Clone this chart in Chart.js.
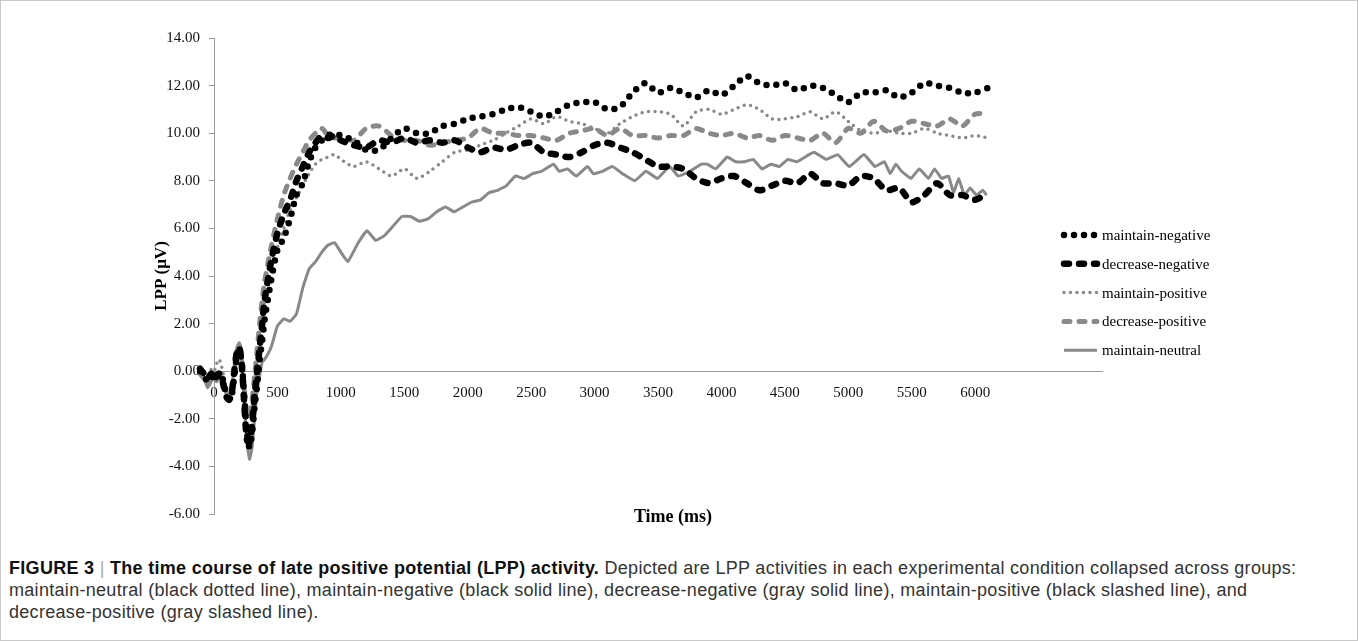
<!DOCTYPE html>
<html>
<head>
<meta charset="utf-8">
<title>LPP time course</title>
<script src="https://cdn.jsdelivr.net/npm/chart.js@4.4.1/dist/chart.umd.min.js"></script>
<style>
  html, body { margin: 0; padding: 0; background: #fff; }
  #frame { position: absolute; left: 0; top: 0; width: 1358px; height: 641px; box-sizing: border-box; border: 1px solid #c9c9c9; }
  #chart-wrap { position: absolute; left: 0; top: 0; width: 1358px; height: 540px; }
  #caption { position: absolute; left: 9px; top: 557px; font-family: "Liberation Sans", Arial, sans-serif; font-size: 18px; letter-spacing: 0.3px; line-height: 22px; color: #333; white-space: nowrap; }
  #caption b { color: #111; }
  #caption .bar { color: #aaa; font-weight: normal; }
</style>
</head>
<body>
<div id="frame"></div>
<div id="chart-wrap"><canvas id="lpp" width="1358" height="540"></canvas></div>
<div id="caption"><b>FIGURE 3 <span class="bar">|</span> The time course of late positive potential (LPP) activity.</b> Depicted are LPP activities in each experimental condition collapsed across groups:<br>maintain-neutral (black dotted line), maintain-negative (black solid line), decrease-negative (gray solid line), maintain-positive (black slashed line), and<br>decrease-positive (gray slashed line).</div>
<script>
// time points (ms), dense around the early components
var timeMs = [
  -110, -80, -50, -20, 0, 20, 40, 60, 80, 100, 120, 140, 160, 180, 200, 220, 240, 260, 280, 300, 320, 340, 360, 380, 400,
  450, 500, 550, 600, 650, 700, 750, 800, 850, 900, 950, 1000,
  1100, 1200, 1300, 1400, 1500, 1600, 1700, 1800, 1900, 2000,
  2100, 2200, 2300, 2400, 2500, 2600, 2700, 2800, 2900, 3000,
  3100, 3200, 3300, 3400, 3500, 3600, 3700, 3800, 3900, 4000,
  4100, 4200, 4300, 4400, 4500, 4600, 4700, 4800, 4900, 5000,
  5100, 5200, 5300, 5400, 5500, 5600, 5700, 5800, 5900, 6000,
  6100
];

// the solid gray line zigzags more, so it was read at its own turning points
var neutralTimeMs = [
  -110, -80, -50, -20, 0, 20, 40, 60, 80, 100, 120, 140, 160, 180, 200, 220, 240, 260, 280, 300, 320, 340, 360, 380, 400,
  450, 500, 550, 600, 650, 700, 750, 800, 850, 900, 950, 1000,
  1055, 1137, 1206, 1275, 1344, 1412, 1481, 1550, 1618, 1687, 1756, 1825, 1893, 1962,
  2031, 2100, 2168, 2237, 2306, 2375, 2444, 2512, 2580, 2677, 2720, 2787, 2855, 2945, 2990,
  3062, 3140, 3220, 3316, 3405, 3495, 3591, 3660, 3750, 3842, 3887, 3955,
  4045, 4113, 4182, 4250, 4320, 4390, 4457, 4525, 4595, 4690, 4732, 4825, 4917,
  5007, 5124, 5210, 5285, 5330, 5375, 5420, 5494, 5560, 5632, 5680, 5735, 5790, 5830, 5870, 5915, 5960,
  6010, 6060, 6090
];

var maintainNegative = [
  0.0, -0.2, -0.4, -0.2, -0.3, -0.1, -0.3, -0.2, -0.6, -1.0, -1.2, -1.0, -0.2, 0.6, 0.9, 0.3, -1.2, -2.6, -3.2, -2.6, -1.5, -0.6, 0.5, 1.3, 2.2,
  3.8, 5.1, 5.6, 6.4, 7.4, 7.9, 8.8, 9.4, 9.7, 9.9, 10.0, 9.9,
  9.7, 9.3, 9.3, 9.8, 10.2, 10.0, 10.0, 10.3, 10.4, 10.6,
  10.7, 10.8, 11.0, 11.1, 10.9, 10.7, 10.9, 11.2, 11.3, 11.3,
  11.0, 11.1, 11.7, 12.1, 11.7, 11.9, 11.7, 11.5, 11.8, 11.6,
  12.0, 12.4, 12.1, 12.0, 12.1, 11.8, 12.0, 11.9, 11.6, 11.3,
  11.7, 11.7, 11.8, 11.5, 11.7, 12.1, 12.0, 11.9, 11.7, 11.7,
  11.9
];

var decreaseNegative = [
  0.1, -0.1, -0.3, -0.1, -0.4, -0.2, -0.1, -0.3, -0.7, -1.1, -1.2, -0.9, 0.0, 0.8, 1.0, 0.2, -1.5, -2.9, -3.0, -2.2, -1.0, 0.0, 1.0, 2.0, 3.0,
  4.6, 5.8, 6.6, 7.2, 8.0, 8.6, 9.2, 9.6, 9.9, 9.8, 9.9, 9.7,
  9.5, 9.4, 9.7, 9.6, 9.8, 9.6, 9.7, 9.6, 9.7, 9.4,
  9.2, 9.4, 9.3, 9.5, 9.6, 9.2, 9.1, 9.0, 9.2, 9.5,
  9.6, 9.4, 9.2, 8.9, 8.6, 8.6, 8.5, 8.1, 7.9, 8.1,
  8.2, 7.9, 7.6, 7.8, 8.0, 7.9, 8.3, 7.9, 7.9, 7.8,
  8.2, 8.1, 7.6, 7.7, 7.1, 7.4, 7.9, 7.4, 7.4, 7.2,
  7.5
];

var maintainPositive = [
  0.2, 0.0, -0.2, 0.1, 0.0, 0.3, 0.5, 0.2, -0.3, -0.8, -1.0, -0.7, 0.2, 0.9, 1.0, 0.2, -1.2, -2.4, -2.8, -2.0, -0.8, 0.3, 1.3, 2.2, 3.0,
  4.4, 5.2, 6.0, 6.8, 7.3, 7.8, 8.3, 8.7, 8.9, 9.0, 9.1, 8.9,
  8.6, 8.8, 8.5, 8.2, 8.5, 8.1, 8.4, 8.8, 9.2, 9.3,
  9.5, 9.7, 10.0, 10.3, 10.6, 10.4, 10.7, 10.5, 10.4, 10.2,
  10.0, 10.4, 10.7, 10.9, 10.9, 10.8, 10.3, 10.9, 11.0, 10.8,
  11.0, 11.2, 11.0, 10.6, 10.6, 10.7, 10.9, 10.6, 10.9, 10.5,
  10.1, 10.0, 10.1, 10.0, 10.0, 10.2, 10.0, 9.9, 9.8, 9.9,
  9.8
];

var decreasePositive = [
  -0.1, -0.3, -0.6, -0.3, -0.2, -0.4, -0.1, -0.3, -0.5, -0.9, -1.1, -0.8, 0.1, 0.9, 1.1, 0.4, -0.8, -1.8, -1.9, -1.2, -0.2, 0.9, 2.0, 3.0, 3.8,
  5.2, 6.4, 7.4, 8.1, 8.7, 9.2, 9.7, 10.0, 10.2, 9.9, 9.8, 9.8,
  9.7, 10.2, 10.3, 9.9, 9.7, 9.7, 9.5, 9.6, 9.7, 9.8,
  10.2, 10.0, 10.0, 9.9, 9.9, 9.8, 9.7, 10.0, 10.1, 10.2,
  9.9, 10.2, 9.9, 9.9, 9.8, 9.9, 9.9, 10.2, 10.0, 9.9,
  10.0, 9.8, 9.9, 9.7, 9.9, 9.8, 9.7, 10.0, 9.6, 10.2,
  10.0, 10.5, 10.1, 10.2, 10.5, 10.4, 10.3, 10.6, 10.3, 10.8,
  10.8
];

var maintainNeutral = [
  0.0, -0.3, -0.7, -0.4, -0.2, -0.2, -0.1, -0.2, -0.5, -0.9, -1.0, -0.7, 0.2, 1.0, 1.2, 0.4, -1.4, -3.0, -3.7, -3.2, -2.0, -0.8, -0.2, 0.4, 0.5,
  1.0, 1.9, 2.2, 2.1, 2.4, 3.5, 4.3, 4.6, 5.0, 5.3, 5.4, 5.0,
  4.6, 5.4, 5.9, 5.5, 5.7, 6.1, 6.5, 6.5, 6.3, 6.4, 6.7, 6.9, 6.7, 6.9,
  7.1, 7.2, 7.5, 7.6, 7.8, 8.2, 8.1, 8.3, 8.4, 8.7, 8.4, 8.5, 8.2, 8.6, 8.3,
  8.4, 8.6, 8.3, 8.0, 8.4, 8.1, 8.6, 8.2, 8.4, 8.7, 8.7, 8.5,
  9.0, 8.8, 8.8, 8.9, 8.5, 8.7, 8.6, 8.9, 8.8, 9.1, 9.2, 8.9, 9.1,
  8.6, 9.1, 8.6, 8.8, 8.3, 8.7, 8.4, 8.1, 8.5, 8.1, 8.5, 8.1, 8.2, 7.5, 8.1, 7.4, 7.7,
  7.4, 7.6, 7.4
];

var seriesNames = ["maintain-negative", "decrease-negative", "maintain-positive", "decrease-positive", "maintain-neutral"];
var xTickValues = [0, 500, 1000, 1500, 2000, 2500, 3000, 3500, 4000, 4500, 5000, 5500, 6000];
var yTickValues = [-6, -4, -2, 0, 2, 4, 6, 8, 10, 12, 14];

var SERIF = "'Liberation Serif', 'Times New Roman', serif";
var AXIS_GRAY = "#9a9a9a";
var LINE_GRAY = "#898989";

function points(times, values) {
    return times.map(function (t, i) {
        return {x: t, y: values[i]};
    });
}

function series(name, times, values, style) {
    return Object.assign({
        label: name,
        data: points(times, values),
        pointRadius: 0,
        fill: false,
        tension: 0.25,
        clip: false
    }, style);
}

// legend and axis titles are drawn on the canvas, next to the plot
var lppDecor = {
    id: "lppDecor",
    afterDraw: function (chart) {
        var ctx = chart.ctx;
        var area = chart.chartArea;
        ctx.save();
        ctx.fillStyle = "#000";
        ctx.textBaseline = "middle";

        ctx.textAlign = "center";
        ctx.font = "bold 18px " + SERIF;
        ctx.fillText("Time (ms)", 673, 517);

        ctx.save();
        ctx.translate(162, (area.top + area.bottom) / 2);
        ctx.rotate(-Math.PI / 2);
        ctx.font = "bold 17px " + SERIF;
        ctx.fillText("LPP (\u03bcV)", 0, 0);
        ctx.restore();

        ctx.textAlign = "left";
        ctx.font = "15px " + SERIF;
        chart.data.datasets.forEach(function (ds, i) {
            var y = 235 + i * 28.8;
            ctx.save();
            ctx.strokeStyle = ds.borderColor;
            ctx.lineWidth = ds.borderWidth;
            ctx.lineCap = ds.borderCapStyle || "butt";
            ctx.setLineDash(ds.borderDash || []);
            ctx.beginPath();
            ctx.moveTo(1064, y);
            ctx.lineTo(1097, y);
            ctx.stroke();
            ctx.restore();
            ctx.fillText(ds.label, 1102, y + 1);
        });
        ctx.restore();
    }
};

new Chart(document.getElementById("lpp"), {
    type: "line",
    data: {
        datasets: [
            series(seriesNames[0], timeMs, maintainNegative, {borderColor: "#000", borderWidth: 6.5, borderDash: [0, 10], borderCapStyle: "round"}),
            series(seriesNames[1], timeMs, decreaseNegative, {borderColor: "#000", borderWidth: 6.5, borderDash: [5, 10], borderCapStyle: "round"}),
            series(seriesNames[2], timeMs, maintainPositive, {borderColor: LINE_GRAY, borderWidth: 3.5, borderDash: [0, 6.5], borderCapStyle: "round"}),
            series(seriesNames[3], timeMs, decreasePositive, {borderColor: LINE_GRAY, borderWidth: 5, borderDash: [6, 9], borderCapStyle: "round"}),
            series(seriesNames[4], neutralTimeMs, maintainNeutral, {borderColor: LINE_GRAY, borderWidth: 3, tension: 0.1})
        ]
    },
    options: {
        responsive: false,
        animation: false,
        events: [],
        layout: {padding: {left: 154, right: 256, top: 38, bottom: 26}},
        plugins: {
            legend: {display: false},
            tooltip: {enabled: false}
        },
        scales: {
            x: {
                type: "linear",
                position: {y: 0},
                afterDataLimits: function (scale) {
                    scale.min = 0;
                    scale.max = 6100;
                },
                afterBuildTicks: function (scale) {
                    scale.ticks = xTickValues.map(function (v) { return {value: v}; });
                },
                grid: {drawOnChartArea: false, drawTicks: false, color: AXIS_GRAY},
                border: {color: AXIS_GRAY, width: 1},
                ticks: {
                    padding: 13,
                    color: "#111",
                    font: {family: SERIF, size: 15},
                    maxRotation: 0,
                    autoSkip: false,
                    callback: function (v) { return String(v); }
                }
            },
            y: {
                position: "left",
                min: -6,
                max: 14,
                afterFit: function (scale) {
                    scale.width = 60;
                },
                afterBuildTicks: function (scale) {
                    scale.ticks = yTickValues.map(function (v) { return {value: v}; });
                },
                grid: {drawOnChartArea: false, drawTicks: true, tickLength: 5, color: AXIS_GRAY},
                border: {color: AXIS_GRAY, width: 1},
                ticks: {
                    padding: 9,
                    color: "#111",
                    font: {family: SERIF, size: 15},
                    callback: function (v) { return Number(v).toFixed(2); }
                }
            }
        }
    },
    plugins: [lppDecor]
});
</script>
</body>
</html>
